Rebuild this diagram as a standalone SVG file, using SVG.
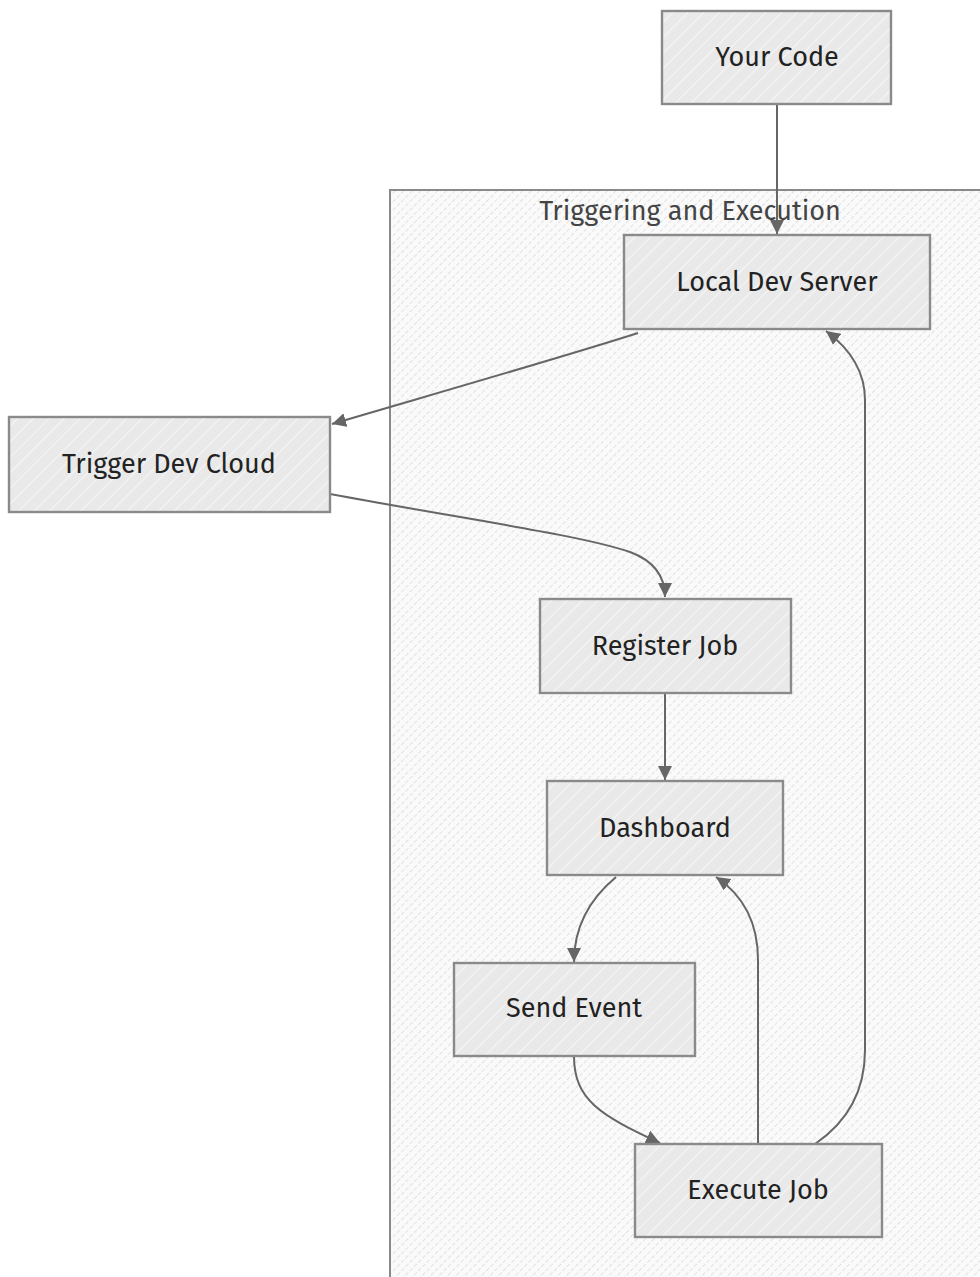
<svg xmlns="http://www.w3.org/2000/svg" width="980" height="1277" viewBox="0 0 980 1277">
<style>
.node rect{fill:url(#nodeHatch);stroke:#8a8a8a;stroke-width:2.4}
.node text{font-family:"Fira Sans","Noto Sans","Liberation Sans",sans-serif;font-size:27px;fill:#222;text-anchor:middle;dominant-baseline:central}
.cluster rect{fill:url(#clusterHatch);stroke:#8a8a8a;stroke-width:2}
.cluster text{font-family:"Fira Sans","Noto Sans","Liberation Sans",sans-serif;font-size:27px;fill:#444;text-anchor:middle;dominant-baseline:central}
.edges path{fill:none;stroke:#666;stroke-width:2;marker-end:url(#arrow)}
</style>
<defs>
<pattern id="nodeHatch" patternUnits="userSpaceOnUse" width="11" height="11" patternTransform="rotate(45)">
<rect width="11" height="11" fill="#e9e9e9"/>
<line x1="0" y1="0" x2="0" y2="11" stroke="#fbfbfb" stroke-width="1.5"/>
</pattern>
<pattern id="clusterHatch" patternUnits="userSpaceOnUse" width="6" height="6" patternTransform="rotate(45)">
<rect width="6" height="6" fill="#fafafa"/>
<line x1="0" y1="0" x2="0" y2="6" stroke="#c9c9c9" stroke-width="1" stroke-dasharray="3 2"/>
</pattern>
<marker id="arrow" markerUnits="userSpaceOnUse" markerWidth="14" markerHeight="14" refX="12" refY="6" orient="auto" viewBox="0 0 12 12">
<path d="M0,0 L12,6 L0,12 z" fill="#666"/>
</marker>
</defs>
<g id="cluster-triggering" class="cluster">
<rect x="390" y="190" width="595" height="1092"/>
<text x="690" y="211">Triggering and Execution</text>
</g>
<g id="edges" class="edges">
<path d="M777,104 L777,234"/>
<path d="M638,333 C560,358 420,398 332,424"/>
<path d="M330,494 C470,520 580,535 630,552 Q665,565 665,597"/>
<path d="M665,693 L665,780"/>
<path d="M616,877 Q574,912 574,962"/>
<path d="M574,1056 C574,1100 600,1115 660,1143"/>
<path d="M758,1144 L758,960 Q758,905 716,877"/>
<path d="M815,1144 Q865,1110 865,1050 L865,400 Q865,360 826,331"/>
</g>
<g id="node-your-code" class="node">
<rect x="662" y="11" width="229" height="93"/>
<text x="777" y="57">Your Code</text>
</g>
<g id="node-local-dev-server" class="node">
<rect x="624" y="235" width="306" height="94"/>
<text x="777" y="282">Local Dev Server</text>
</g>
<g id="node-trigger-dev-cloud" class="node">
<rect x="9" y="417" width="321" height="95"/>
<text x="169" y="464">Trigger Dev Cloud</text>
</g>
<g id="node-register-job" class="node">
<rect x="540" y="599" width="251" height="94"/>
<text x="665" y="646">Register Job</text>
</g>
<g id="node-dashboard" class="node">
<rect x="547" y="781" width="236" height="94"/>
<text x="665" y="828">Dashboard</text>
</g>
<g id="node-send-event" class="node">
<rect x="454" y="963" width="241" height="93"/>
<text x="574" y="1008">Send Event</text>
</g>
<g id="node-execute-job" class="node">
<rect x="635" y="1144" width="247" height="93"/>
<text x="758" y="1190">Execute Job</text>
</g>
</svg>
